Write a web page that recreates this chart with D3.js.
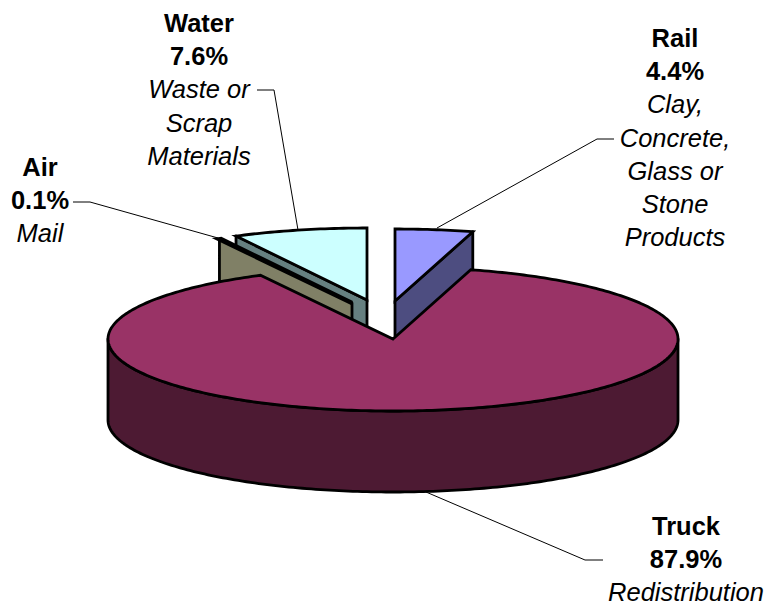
<!DOCTYPE html>
<html><head><meta charset="utf-8">
<script src="https://cdn.jsdelivr.net/npm/d3@7"></script>
<style>html,body{margin:0;background:#fff}svg{display:block}text{font-family:"Liberation Sans",Arial,sans-serif;font-size:25.5px;fill:#000;text-anchor:middle}</style>
</head><body><svg id="c" width="767" height="605"></svg>
<script>
const modes = ["Rail","Truck","Air","Water"];
const shares = [4.4,87.9,0.1,7.6];
const cargo = [["Clay,","Concrete,","Glass or","Stone","Products"],["Redistribution"],["Mail"],["Waste or","Scrap","Materials"]];
const topColors = ["#9999ff","#993366","#ffffcc","#ccffff"];
const sideColors = ["#4d4d80","#4d1a33","#808066","#668080"];
const explode = [[2,-38],[0,0],[-41,-36],[-26,-39]];
const labelPos = [[675,47],[686,535],[40,176],[199,32]];
const leaders = [[[437,228],[597,139],[614,139]],[[426,492],[585,560],[603,560]],[[218,238],[90,202],[73,202]],[[298,230],[274,90],[257,90]]];
const cx=393,cy=339,rx=285,ry=72,depth=81,lh=33.2;
const svg=d3.select("#c");
const arcs=d3.pie().sort(null).value(d=>d)(shares);
const pt=(a,o,dy=0)=>[cx+o[0]+rx*Math.sin(a),cy+o[1]+dy+-ry*Math.cos(a)];
const line=d3.line();
const rim=(a0,a1,o,dy=0)=>{const n=Math.max(2,Math.ceil((a1-a0)*60));return d3.range(n+1).map(i=>pt(a0+(a1-a0)*i/n,o,dy));};
const drawOrder=[3,2,0,1];
drawOrder.forEach(i=>{
  const {startAngle:a0,endAngle:a1}=arcs[i],o=explode[i],apex=[cx+o[0],cy+o[1]];
  const g=svg.append("g");
  const side=(pts)=>g.append("path").attr("d",line(pts)+"Z").attr("fill",sideColors[i]).attr("stroke","#000").attr("stroke-width",2.8).attr("stroke-linejoin","round");
  const down=p=>[p[0],p[1]+depth];
  if(i===1){
    // outer wall of the large slice, front half of the rim
    const r=rim(Math.PI/2,3*Math.PI/2,o);
    side(r.concat(rim(Math.PI/2,3*Math.PI/2,o,depth).reverse()));
  } else {
    // the cut wall of a pulled-out slice
    const s=pt(a0,o),e=pt(a1,o);
    if(i===0){ side([apex,e,down(e),down(apex)]); }
    else { side([apex,s,down(s),down(apex)]); }
  }
  g.append("path").attr("d",line([apex].concat(rim(a0,a1,o)))+"Z").attr("fill",topColors[i]).attr("stroke","#000").attr("stroke-width",i===2?4.5:2.8).attr("stroke-linejoin","miter");
});
modes.forEach((m,i)=>{
  svg.append("path").attr("d",line(leaders[i])).attr("fill","none").attr("stroke","#000").attr("stroke-width",1);
  const rows=[{t:m,b:1},{t:shares[i].toFixed(1)+"%",b:1}].concat(cargo[i].map(t=>({t,b:0})));
  rows.forEach((r,k)=>svg.append("text").attr("x",labelPos[i][0]).attr("y",labelPos[i][1]+k*lh)
    .attr("font-weight",r.b?"bold":"normal").attr("font-style",r.b?"normal":"italic").text(r.t));
});
</script></body></html>
